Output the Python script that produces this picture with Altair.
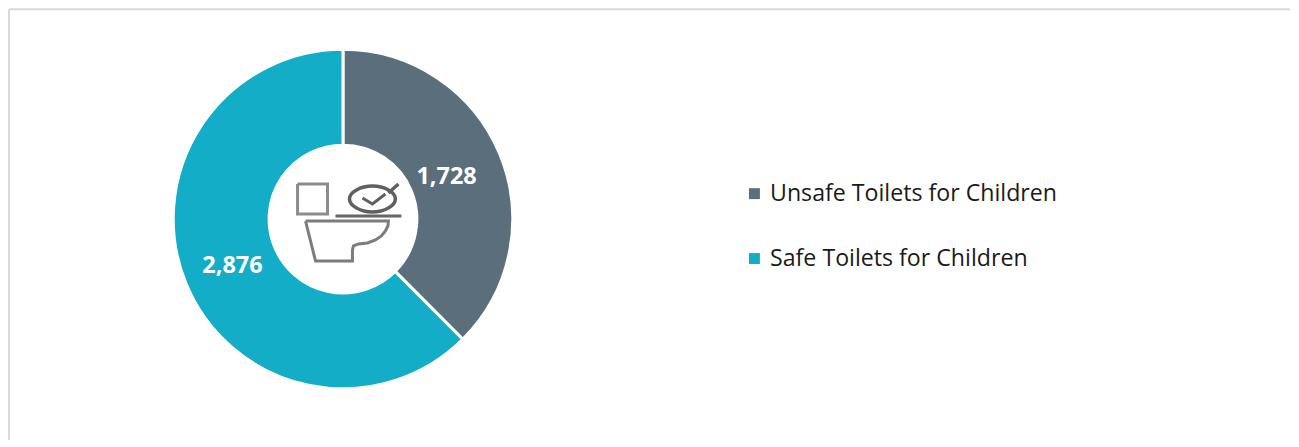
import altair as alt
import pandas as pd

W, H = 1283, 431
OFFSET = 8

categories = ["Unsafe Toilets for Children", "Safe Toilets for Children"]
values = [1728, 2876]
labels = ["1,728", "2,876"]
colors = ["#5A6F7B", "#13ADC8"]
orders = [0, 1]

# Icon outlines, in picture pixels
tank_x = [297, 327, 327, 297, 297]
tank_y = [183, 183, 213, 213, 183]
ring_x = [372, 388, 395, 388, 372, 356, 349, 356]
ring_y = [185, 189, 198, 207, 211, 207, 198, 189]
check_x = [362, 372, 385]
check_y = [197, 203, 193]
handle_x = [388, 398]
handle_y = [192, 183]
seat_x = [335, 401]
seat_y = [215, 215]
bowl_x = [305, 388, 387.5, 385, 381, 375, 367, 358, 353, 352, 352, 315, 305]
bowl_y = [220, 220, 225, 230, 235, 239, 242, 243, 245, 249, 260, 260, 220]

df = pd.DataFrame({"cat": categories, "value": values, "label": labels, "order": orders})

color_enc = alt.Color(
    "cat:N",
    scale=alt.Scale(domain=categories, range=colors),
    legend=alt.Legend(
        orient="none", legendX=735, legendY=173, title=None, symbolType="square",
        symbolSize=120, labelFont="Open Sans", labelFontSize=23.2, labelColor="#1a1a1a",
        rowPadding=41, labelLimit=400, labelOffset=4, symbolStrokeWidth=0,
    ),
)
theta_enc = alt.Theta("value:Q", stack=True, scale=alt.Scale(domain=[0, sum(values)], range=[0, 6.28318530718]))

arcs = alt.Chart(df).mark_arc(outerRadius=170, innerRadius=74, stroke="white", strokeWidth=3).encode(
    theta=theta_enc, color=color_enc, order=alt.Order("order:Q"),
    x=alt.value(342.5 - OFFSET), y=alt.value(218 - OFFSET),
)
text = alt.Chart(df).mark_text(
    radius=116, font="Open Sans", fontSize=23.5, fontWeight="bold", color="white", dx=-3.5, dy=2.5
).encode(
    theta=theta_enc, text="label:N", order=alt.Order("order:Q"),
    x=alt.value(342.5 - OFFSET), y=alt.value(218 - OFFSET),
)

xs = alt.X("x:Q", scale=alt.Scale(domain=[OFFSET, W + OFFSET], range=[0, W]), axis=None)
ys = alt.Y("y:Q", scale=alt.Scale(domain=[OFFSET, H + OFFSET], range=[0, H]), axis=None)


def part(x, y, color, width=3, interpolate="linear"):
    d = pd.DataFrame({"x": x, "y": y, "i": range(len(x))})
    return alt.Chart(d).mark_line(color=color, strokeWidth=width, interpolate=interpolate).encode(
        x=xs, y=ys, order="i:Q"
    )


icon = [
    part(tank_x, tank_y, "#8C8C8C", 3),
    part(ring_x, ring_y, "#606060", 3.5, "cardinal-closed"),
    part(check_x, check_y, "#606060", 3),
    part(handle_x, handle_y, "#606060", 3.5),
    part(seat_x, seat_y, "#666666", 3),
    part(bowl_x, bowl_y, "#7C7C7C", 3),
]

border_top = alt.Chart(pd.DataFrame({"a": [0]})).mark_rule(color="#D9D9D9", strokeWidth=2).encode(
    x=alt.value(0), x2=alt.value(W), y=alt.value(0)
)
border_left = alt.Chart(pd.DataFrame({"a": [0]})).mark_rule(color="#D9D9D9", strokeWidth=2).encode(
    x=alt.value(0), y=alt.value(0), y2=alt.value(H)
)

chart = alt.layer(border_top, border_left, arcs, text, *icon).resolve_scale(
    theta="independent", color="independent"
).properties(width=W, height=H, padding=0, background="white").configure_view(stroke=None)

chart.save("out.html", embed_options={"renderer": "svg", "actions": False})
